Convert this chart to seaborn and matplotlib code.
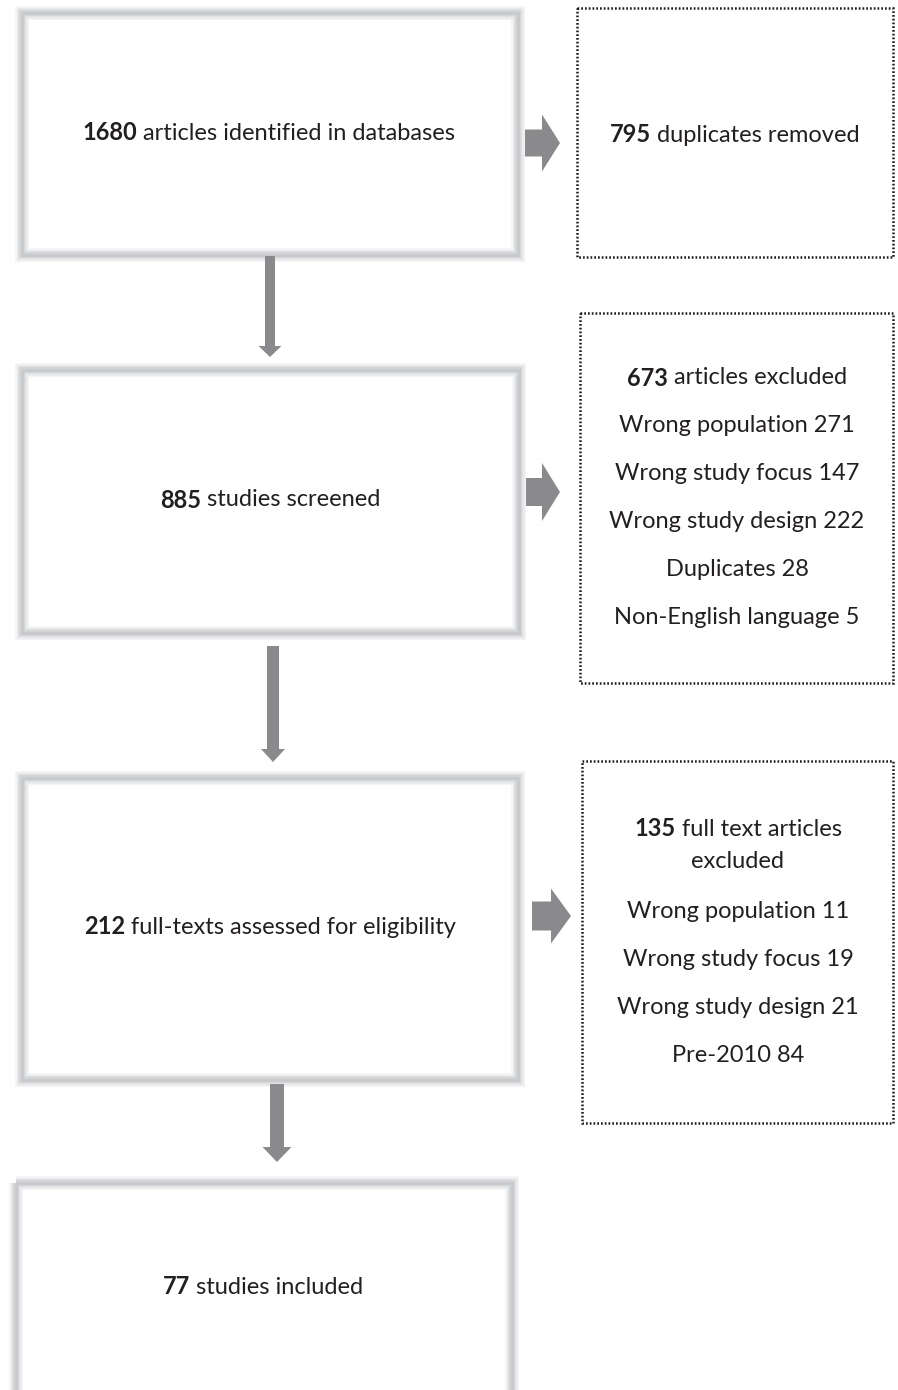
import matplotlib
matplotlib.use("Agg")
import matplotlib.pyplot as plt
from matplotlib.patches import Rectangle, FancyArrow
import seaborn as sns

# --- data ---
stage_counts = [1680, 885, 212, 77]
stage_labels = ["articles identified in databases", "studies screened",
                "full-texts assessed for eligibility", "studies included"]

excluded_counts = [795, 673, 135]
excluded_labels = ["duplicates removed", "articles excluded", "full text articles"]
excluded_extra = ["", "", "excluded"]

screen_reasons = ["Wrong population", "Wrong study focus", "Wrong study design",
                  "Duplicates", "Non-English language"]
screen_reason_counts = [271, 147, 222, 28, 5]

fulltext_reasons = ["Wrong population", "Wrong study focus", "Wrong study design", "Pre-2010"]
fulltext_reason_counts = [11, 19, 21, 84]

# --- layout (pixel coords, y down) ---
main_boxes = [(22, 13, 518, 255), (22, 370, 519, 633), (22, 778, 518, 1080), (16, 1183, 512, 1420)]
side_boxes = [(577, 8, 893, 257), (580, 313, 893, 683), (582, 761, 893, 1123)]
down_arrows = [(270, 256, 357, 10, 23, 11), (273, 646, 762, 12, 24, 13), (277, 1084, 1162, 14, 29, 15)]
right_arrows = [(525, 560, 143, 27, 57, 18), (526, 560, 492, 28, 58, 18), (532, 571, 916, 29, 55, 20)]

FONT = "Lato"
FS = 17
TXT = "#231f20"
ARROW = "#8a8a8d"

sns.set_theme(style="white")
plt.rcParams["font.family"] = [FONT, "DejaVu Sans"]

fig = plt.figure(figsize=(8.98, 13.9), dpi=100)
ax = fig.add_axes([0, 0, 1, 1])
ax.set_xlim(0, 898)
ax.set_ylim(1390, 0)
ax.axis("off")
renderer = fig.canvas.get_renderer()


def text_width(s, weight):
    t = ax.text(0, 0, s, fontsize=FS, fontweight=weight, family=FONT)
    bb = t.get_window_extent(renderer=renderer)
    t.remove()
    return bb.width


space_w = text_width("a a", "normal") - text_width("aa", "normal")


def mixed_line(xc, y, bold, rest):
    # bold number followed by regular text, centred as one line
    wb = text_width(bold, "bold") if bold else 0
    wr = text_width(rest, "normal")
    gap = space_w if bold else 0
    x0 = xc - (wb + gap + wr) / 2
    if bold:
        ax.text(x0, y, bold, fontsize=FS, fontweight="bold", color=TXT, va="center", ha="left")
    ax.text(x0 + wb + gap, y, rest, fontsize=FS, color=TXT, va="center", ha="left")


# solid boxes with soft grey border
for (x0, y0, x1, y1) in main_boxes:
    for lw, col in [(10, "#f5f5f6"), (8, "#ececed"), (6, "#e0e1e3"), (4, "#d3d4d6"), (2, "#c8c9cc")]:
        ax.add_patch(Rectangle((x0, y0), x1 - x0, y1 - y0, fill=False, lw=lw,
                               edgecolor=col, joinstyle="miter"))

# dotted boxes
for (x0, y0, x1, y1) in side_boxes:
    ax.add_patch(Rectangle((x0, y0), x1 - x0, y1 - y0, fill=False, lw=1.8,
                           edgecolor="#1e1e1e", linestyle=(0, (0.7, 0.8))))

# arrows
for (x, ys, ye, w, hw, hl) in down_arrows:
    ax.add_patch(FancyArrow(x, ys, 0, ye - ys, width=w, head_width=hw, head_length=hl,
                            length_includes_head=True, color=ARROW, lw=0))
for (xs, xe, y, w, hw, hl) in right_arrows:
    ax.add_patch(FancyArrow(xs, y, xe - xs, 0, width=w, head_width=hw, head_length=hl,
                            length_includes_head=True, color=ARROW, lw=0))

# main box text
stage_text_y = [133, 500, 927, 1287]
stage_text_x = [269, 270, 270, 263]
for i in range(len(stage_counts)):
    mixed_line(stage_text_x[i], stage_text_y[i], str(stage_counts[i]), stage_labels[i])

# side box 1
mixed_line(735, 135, str(excluded_counts[0]), excluded_labels[0])

# side box 2
mixed_line(737, 378, str(excluded_counts[1]), excluded_labels[1])
for k, (r, c) in enumerate(zip(screen_reasons, screen_reason_counts)):
    mixed_line(737, 426 + 48 * k, "", f"{r} {c}")

# side box 3
mixed_line(738, 829, str(excluded_counts[2]), excluded_labels[2])
mixed_line(738, 862, "", excluded_extra[2])
for k, (r, c) in enumerate(zip(fulltext_reasons, fulltext_reason_counts)):
    mixed_line(738, 911 + 48 * k, "", f"{r} {c}")

fig.savefig("out.png", dpi=100, facecolor="white")
